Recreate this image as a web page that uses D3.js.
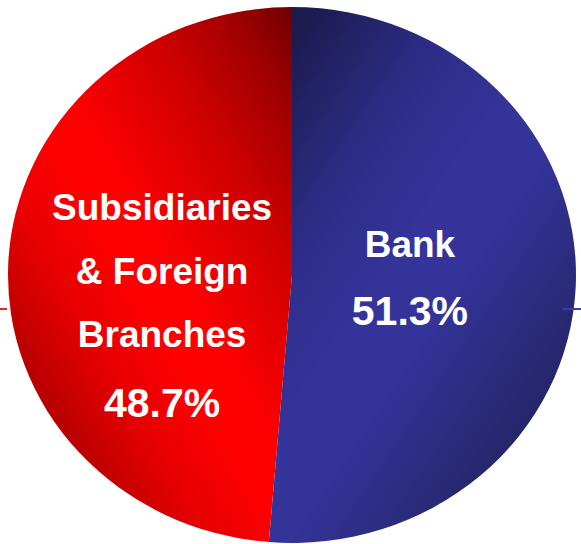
<!DOCTYPE html>
<html>
<head>
<meta charset="utf-8">
<script src="https://cdn.jsdelivr.net/npm/d3@7"></script>
<style>
  html, body { margin: 0; padding: 0; background: #ffffff; }
  svg { display: block; }
</style>
</head>
<body>
<svg id="chart" width="581" height="544"></svg>
<script>
// Share of total by business unit
const categories = ["Bank", "Subsidiaries & Foreign Branches"];
const values = [51.3, 48.7];
const labelLines = [["Bank"], ["Subsidiaries", "& Foreign", "Branches"]];

const cx = 292, cy = 275;
const rx = 284, ry = 268;
const k = ry / rx; // vertical squash of the pie

const svg = d3.select("#chart");
const defs = svg.append("defs");

// local (unsquashed) coordinates from page coordinates
const toLocal = (X, Y) => [X - cx, (Y - cy) / k];

function linear(id, p1, p2, stops) {
  const [x1, y1] = toLocal(p1[0], p1[1]);
  const [x2, y2] = toLocal(p2[0], p2[1]);
  const g = defs.append("linearGradient")
    .attr("id", id)
    .attr("gradientUnits", "userSpaceOnUse")
    .attr("x1", x1).attr("y1", y1).attr("x2", x2).attr("y2", y2);
  stops.forEach(([o, c]) => g.append("stop").attr("offset", o).attr("stop-color", c));
}

// diagonal shading: dark toward the top of the divider, a bright band, darker again at the far rim
linear("gradBank", [214, 128.5], [608.5, 365], [
  [0, "#1b1b4e"], [0.04, "#1c1c52"], [0.3, "#2d2d88"], [0.5, "#34349a"],
  [0.63, "#333399"], [0.9, "#27276e"], [1, "#20205a"]
]);
linear("gradSubs", [-157.5, 82.9], [223, -117.4], [
  [0, "#b00000"], [0.2, "#e80000"], [0.353, "#ff0000"], [0.45, "#fb0000"],
  [0.677, "#d00000"], [0.86, "#a00000"], [1, "#6c0000"]
]);

// faint horizontal rule behind the pie, visible at both edges
svg.append("line").attr("x1", 0).attr("x2", 7).attr("y1", 309).attr("y2", 309)
  .attr("stroke", "#e8241c").attr("stroke-width", 2);

const pie = d3.pie().sort(null).value(d => d)(values);
const arc = d3.arc().innerRadius(0).outerRadius(rx);

const g = svg.append("g").attr("transform", `translate(${cx},${cy}) scale(1,${k})`);
const fills = ["url(#gradBank)", "url(#gradSubs)"];

g.selectAll("path.slice")
  .data(pie)
  .join("path")
  .attr("class", "slice")
  .attr("d", arc)
  .attr("fill", (d, i) => fills[i]);

svg.append("line").attr("x1", 563).attr("x2", 581).attr("y1", 309).attr("y2", 309)
  .attr("stroke", "#3d3daa").attr("stroke-width", 2);

// labels: category lines followed by the percentage
const fmt = d3.format(".1f");
const labelRadius = [118, 130];
const labelLayout = [
  { lineDy: [-22.5], pctDy: 45.5 },
  { lineDy: [-50, 14, 77], pctDy: 147 }
];

pie.forEach((d, i) => {
  const [lx, ly] = d3.arc().innerRadius(labelRadius[i]).outerRadius(labelRadius[i]).centroid(d);
  const ax = cx + lx, ay = cy + ly * k;
  const t = svg.append("g").attr("transform", `translate(${ax},${ay})`)
    .attr("font-family", "'Liberation Sans', Arial, sans-serif")
    .attr("font-weight", "bold")
    .attr("fill", "#ffffff")
    .attr("text-anchor", "middle");
  labelLines[i].forEach((line, j) => {
    t.append("text").attr("y", labelLayout[i].lineDy[j])
      .attr("font-size", 37).text(line);
  });
  t.append("text").attr("y", labelLayout[i].pctDy)
    .attr("font-size", 41).text(fmt(values[i]) + "%");
});
</script>
</body>
</html>
